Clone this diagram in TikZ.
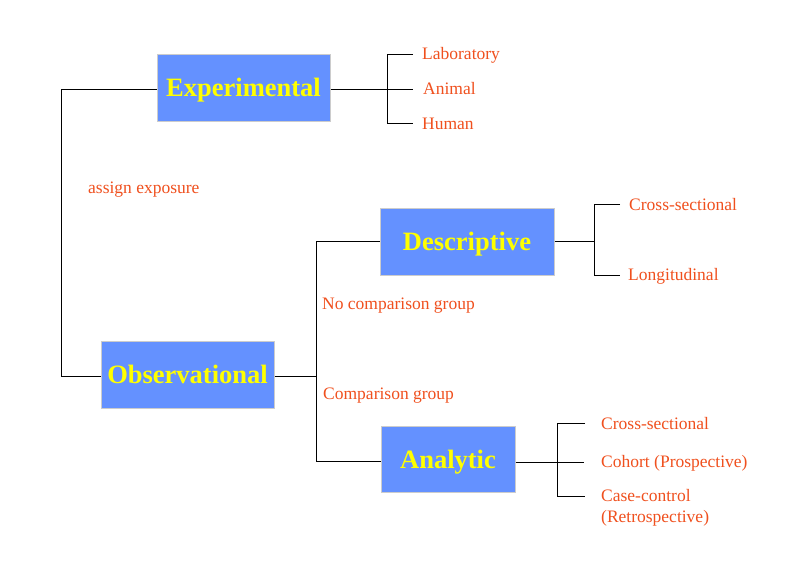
\documentclass[tikz,border=0pt]{standalone}
\usepackage{fontspec}
\setmainfont{Liberation Serif}
\begin{document}
\begin{tikzpicture}[x=1pt,y=-1pt,
  box/.style={fill=boxblue,draw=black!20,line width=1pt,inner sep=0pt,text depth=0pt,text=boxyellow,font=\fontsize{26.5}{30}\selectfont\bfseries},
  lab/.style={text=laborange,font=\fontsize{17.5}{21}\selectfont,inner sep=0pt,anchor=west,align=left,yshift=-1.5pt},
  con/.style={draw=black,line width=1pt}]
\definecolor{boxblue}{RGB}{100,145,255}
\definecolor{boxyellow}{RGB}{255,255,0}
\definecolor{laborange}{RGB}{240,80,30}
\useasboundingbox (0,0) rectangle (800,560);
\fill[white] (0,0) rectangle (800,560);
% boxes
\node[box,minimum width=173pt,minimum height=67pt] (exp) at (243.5,87.5) {Experimental};
\node[box,minimum width=173pt,minimum height=67pt] (obs) at (187.5,374.5) {Observational};
\node[box,minimum width=174pt,minimum height=67pt] (des) at (467,241.5) {Descriptive};
\node[box,minimum width=134pt,minimum height=66pt] (ana) at (448,459) {Analytic};
% junctions
\coordinate (l1) at (61,89);
\coordinate (l2) at (61,376);
\coordinate (e0) at (387,89);
\coordinate (e1) at (387,54);
\coordinate (e3) at (387,123);
\coordinate (o0) at (316,376);
\coordinate (o1) at (316,241);
\coordinate (o2) at (316,461);
\coordinate (d0) at (594,241);
\coordinate (d1) at (594,204);
\coordinate (d2) at (594,275);
\coordinate (a0) at (557,462);
\coordinate (a1) at (557,423);
\coordinate (a3) at (557,496);
% labels
\node[lab] (lab) at (422,54) {Laboratory};
\node[lab] (ani) at (423,87) {Animal};
\node[lab] (hum) at (422,122) {Human};
\node[lab] (dcs) at (629,203) {Cross-sectional};
\node[lab] (dlo) at (628,275) {Longitudinal};
\node[lab] (acs) at (601,422) {Cross-sectional};
\node[lab] (aco) at (601,462) {Cohort (Prospective)};
\node[lab,align=left] (acc) at (601,506.5) {Case-control\\(Retrospective)};
\node[lab] (ae) at (88,188) {assign exposure};
\node[lab] (ncg) at (322,304) {No comparison group};
\node[lab] (cg) at (323,394) {Comparison group};
% connectors
\draw[con] (exp.west |- l1) -- (l1) -- (l2) -- (obs.west |- l2);
\draw[con] (exp.east |- e0) -- (413,89);
\draw[con] (413,54) -- (e1) -- (e3) -- (413,123);
\draw[con] (obs.east |- o0) -- (o0);
\draw[con] (des.west |- o1) -- (o1) -- (o2) -- (ana.west |- o2);
\draw[con] (des.east |- d0) -- (d0);
\draw[con] (620,204) -- (d1) -- (d2) -- (620,275);
\draw[con] (ana.east |- a0) -- (584,462);
\draw[con] (585,423) -- (a1) -- (a3) -- (585,496);
\end{tikzpicture}
\end{document}
